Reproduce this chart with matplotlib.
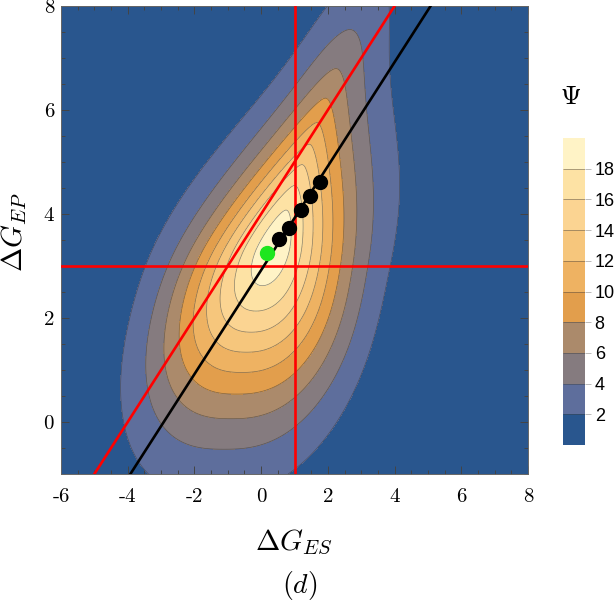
import matplotlib
matplotlib.use("Agg")
import matplotlib.pyplot as plt
import numpy as np
from matplotlib.ticker import MultipleLocator

plt.rcParams['mathtext.fontset'] = 'cm'

# niveles y colores de la barra (0..20)
niveles = [0, 2, 4, 6, 8, 10, 12, 14, 16, 18, 20]
colores = ["#29568e", "#5e6e9c", "#857b7f", "#ab8a6b", "#e29e4c",
           "#eeb262", "#f6c67c", "#fbd492", "#fde2a4", "#fff3c6"]
ticks_barra = [2, 4, 6, 8, 10, 12, 14, 16, 18]

# maximo de Psi
psi_max = 19.5
y_max = 3.35

# lineas rojas y negra
rojo_x = 1.0        # Delta G_ES = 1
rojo_y = 3.0        # Delta G_EP = 3
rojo_diag = 4.0     # Delta G_EP = Delta G_ES + 4
negro_diag = 2.92   # recta negra, pendiente 1

# puntos negros y punto verde
puntos_x = [0.544, 0.850, 1.185, 1.473, 1.752]
puntos_y = [3.513, 3.738, 4.077, 4.354, 4.623]
verde_x = [0.184]
verde_y = [3.258]

xticks = [-6, -4, -2, 0, 2, 4, 6, 8]
yticks = [0, 2, 4, 6, 8]

#######################################
# superficie Psi: cresta inclinada con perfil horizontal variable
xs = np.linspace(-6, 8, 701)
ys = np.linspace(-1, 8, 451)
X, Y = np.meshgrid(xs, ys)

centro = 0.2 + 0.455*(Y-3) + 0.1*(np.sqrt((Y-3)**2 + 0.5) - np.sqrt(0.5))
ancho = 1.4 + 1.9/(1 + np.exp((Y-3)/1.3))
expo = 1.15 + 1.5/(1 + np.exp(Y-2.8)) + 0.9/(1 + np.exp(-(Y-7.2)/0.6))
d = np.abs(Y-y_max)
caida = np.where(Y < y_max, (d/3.0)**1.8, 1.65*(np.sqrt(1 + (d/2.5)**2) - 1))
cresta = psi_max*np.exp(-caida)
psi = cresta*np.exp(-(np.sqrt((X-centro)**2 + 0.01)/ancho)**expo)

#######################################
fig = plt.figure(figsize=(6.15, 6.07), dpi=100)
ax = fig.add_axes([61/615, 1-474/607, 467/615, 468/607])

cf = ax.contourf(X, Y, psi, levels=niveles, colors=colores)
cs = ax.contour(X, Y, psi, levels=niveles[1:-1], colors="#3c3c3c",
                linewidths=0.5, alpha=0.6)

ax.axvline(rojo_x, color="#ff0000", lw=1.9, zorder=3)
ax.axhline(rojo_y, color="#ff0000", lw=1.9, zorder=3)
ax.axline((0, rojo_diag), slope=1, color="#ff0000", lw=1.9, zorder=3)
ax.axline((0, negro_diag), slope=1, color="black", lw=1.9, zorder=4)
ax.plot(puntos_x, puntos_y, "o", color="black", ms=10, zorder=5)
ax.plot(verde_x, verde_y, "o", color="#1ee61e", ms=10, zorder=5)

ax.set_xlim(-6, 8)
ax.set_ylim(-1, 8)
ax.set_xticks(xticks)
ax.set_yticks(yticks)
ax.set_xticklabels([str(t) for t in xticks], fontfamily="cmr10", fontsize=15)
ax.set_yticklabels([str(t) for t in yticks], fontfamily="cmr10", fontsize=15)
ax.xaxis.set_minor_locator(MultipleLocator(0.5))
ax.yaxis.set_minor_locator(MultipleLocator(0.5))
ax.tick_params(which="both", direction="in", top=True, right=True,
               color="#444444", width=0.7)
ax.tick_params(which="major", length=6)
ax.tick_params(which="minor", length=3)
ax.tick_params(axis="x", pad=10)
ax.tick_params(axis="y", pad=5)
for s in ax.spines.values():
    s.set_color("#666666")
    s.set_linewidth(0.7)

fig.text(294/615, 1-542/607, r"$\Delta G_{ES}$", fontsize=21, ha="center", va="center")
fig.text(14/615, 1-232/607, r"$\Delta G_{EP}$", fontsize=21, ha="center", va="center",
         rotation=90)
fig.text(300/615, 1-586/607, r"$(d)$", fontsize=20, ha="center", va="center")

# barra de color
cax = fig.add_axes([563/615, 1-445/607, 22/615, 307/607])
cbar = fig.colorbar(cf, cax=cax, ticks=ticks_barra)
cbar.add_lines(cs)
cbar.outline.set_visible(False)
cax.tick_params(length=4, width=0.7, color="#bbbbbb", pad=3)
for t in cax.get_yticklabels():
    t.set_fontfamily("Liberation Sans")
    t.set_fontsize(13)
fig.text(571/615, 1-97/607, r"$\Psi$", fontsize=19, ha="center", va="center")

fig.savefig("out.png", dpi=100)
